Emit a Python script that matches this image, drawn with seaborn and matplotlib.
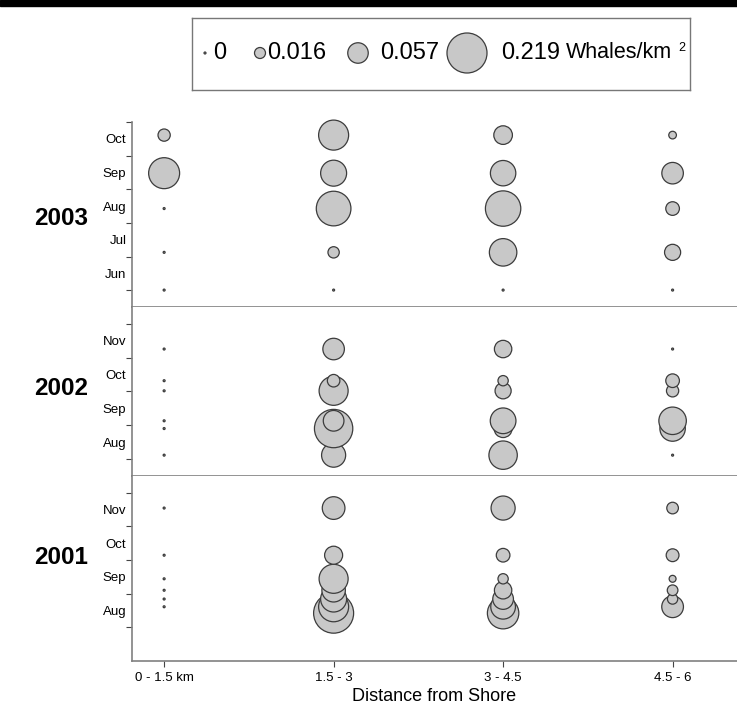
import numpy as np
import pandas as pd
import matplotlib
matplotlib.use("Agg")
import matplotlib.pyplot as plt
import seaborn as sns

sns.set_style("ticks")
plt.rcParams["font.family"] = ["Liberation Sans", "DejaVu Sans"]
plt.rcParams["text.color"] = "black"
plt.rcParams["xtick.labelcolor"] = "black"
plt.rcParams["ytick.labelcolor"] = "black"
plt.rcParams["axes.labelcolor"] = "black"

nan = np.nan
distances = ["0 - 1.5 km", "1.5 - 3", "3 - 4.5", "4.5 - 6"]

# survey dates as month number + fraction of the month, whale density per distance band
dates_2003 = [6.01, 7.13, 8.43, 9.48, 10.61]
dens_2003 = [
    [0, 0, 0, 0.131, 0.020],
    [0, 0.017, 0.164, 0.092, 0.123],
    [0, 0.103, 0.171, 0.088, 0.047],
    [0, 0.035, 0.025, 0.063, 0.0075],
]
dates_2002 = [8.11, 8.90, 9.13, 10.02, 10.32, 11.26]
dens_2002 = [
    [0, 0, 0, 0, 0, 0],
    [0.079, 0.201, 0.058, 0.115, 0.021, 0.063],
    [0.110, 0.044, 0.090, 0.035, 0.014, 0.041],
    [0, 0.088, 0.103, 0.020, 0.025, 0],
]
dates_2001 = [8.42, 8.61, 8.84, 9.10, 9.44, 10.14, 11.54]
dens_2001 = [
    [nan, 0, 0, 0, 0, 0, 0],
    [0.219, 0.123, 0.092, 0.075, 0.115, 0.044, 0.070],
    [0.135, 0.083, 0.058, 0.041, 0.014, 0.025, 0.079],
    [nan, 0.064, 0.014, 0.015, 0.006, 0.022, 0.018],
]

years = ["2003", "2002", "2001"]
month_names = {6: "Jun", 7: "Jul", 8: "Aug", 9: "Sep", 10: "Oct", 11: "Nov"}
legend_vals = [0, 0.016, 0.057, 0.219]
legend_labels = ["0", "0.016", "0.057", "0.219"]

FILL = "#c8c8c8"
EDGE = "#3c3c3c"
SPINE = "#808080"
SMIN, SMAX, VMAX = 2, 830, 0.219

panels = [
    (dates_2003, dens_2003, (5.5, 11.0), range(6, 12), range(6, 11), 0.48),
    (dates_2002, dens_2002, (7.5, 12.5), range(8, 13), range(8, 12), 0.52),
    (dates_2001, dens_2001, (7.0, 12.5), range(8, 13), range(8, 12), 0.557),
]

fig = plt.figure(figsize=(7.37, 7.05), dpi=100)
gs = fig.add_gridspec(3, 1, height_ratios=[5.5, 5, 5.5], left=0.179, right=1.0,
                      top=0.827, bottom=0.0624, hspace=0)

axes = []
for i, (dates, dens, ylim, majors, months, ypos) in enumerate(panels):
    ax = fig.add_subplot(gs[i], sharex=axes[0] if axes else None)
    axes.append(ax)
    rows = []
    for d, vals in zip(distances, dens):
        for t, v in zip(dates, vals):
            rows.append({"distance": d, "date": t, "density": v})
    df = pd.DataFrame(rows).dropna()
    sns.scatterplot(data=df, x="distance", y="date", size="density",
                    sizes=(SMIN, SMAX), size_norm=(0, VMAX), color=FILL,
                    edgecolor=EDGE, linewidth=0.9, legend=False, clip_on=False,
                    zorder=3, ax=ax)
    ax.set_ylim(*ylim)
    ax.set_xlim(-0.19, 3.38)
    ax.set_yticks(list(majors), [""] * len(majors))
    ax.set_yticks([m + 0.5 for m in months], [month_names[m] for m in months], minor=True)
    ax.tick_params(axis="y", which="major", length=4, color="#444444", width=0.8)
    ax.tick_params(axis="y", which="minor", length=0, labelsize=9.5, pad=4)
    ax.set_ylabel("")
    ax.set_xlabel("")
    for s in ["top", "right"]:
        ax.spines[s].set_visible(False)
    for s in ["left", "bottom"]:
        ax.spines[s].set_color(SPINE)
        ax.spines[s].set_linewidth(1.2)
    ax.text(-0.117, ypos, years[i], transform=ax.transAxes, ha="center", va="center",
            fontsize=17.5, fontweight="bold")
    if i < 2:
        ax.tick_params(axis="x", bottom=False, labelbottom=False)

axb = axes[-1]
axb.tick_params(axis="x", length=4, color="#444444", width=0.8, labelsize=9.5, pad=4)
axb.set_xlabel("Distance from Shore", fontsize=13, labelpad=3)

# size key in a framed box above the panels, same size scale as the bubbles
lax = fig.add_axes([192 / 737, 1 - 90 / 705, 498 / 737, 72 / 705])
lax.set_xlim(0, 498)
lax.set_ylim(0, 72)
lax.set_xticks([])
lax.set_yticks([])
for s in lax.spines.values():
    s.set_color("#777777")
    s.set_linewidth(1.0)
key_x = [13, 68, 166, 275]
text_x = [21, 75, 188, 309]
key_df = pd.DataFrame({"x": key_x, "y": [37] * 4, "density": legend_vals})
sns.scatterplot(data=key_df, x="x", y="y", size="density", sizes=(SMIN, SMAX),
                size_norm=(0, VMAX), color=FILL, edgecolor=EDGE, linewidth=0.9,
                legend=False, ax=lax)
lax.set_xlabel("")
lax.set_ylabel("")
for tx, lab in zip(text_x, legend_labels):
    lax.text(tx, 37, lab, fontsize=17, ha="left", va="center")
lax.text(374, 37, "Whales/km", fontsize=15.5, ha="left", va="center")
lax.text(486, 42, "2", fontsize=9, ha="left", va="center")

fig.add_artist(plt.Rectangle((0, 1 - 6 / 705), 1, 6 / 705, transform=fig.transFigure,
                             color="black"))

plt.savefig("out.png", dpi=100)
